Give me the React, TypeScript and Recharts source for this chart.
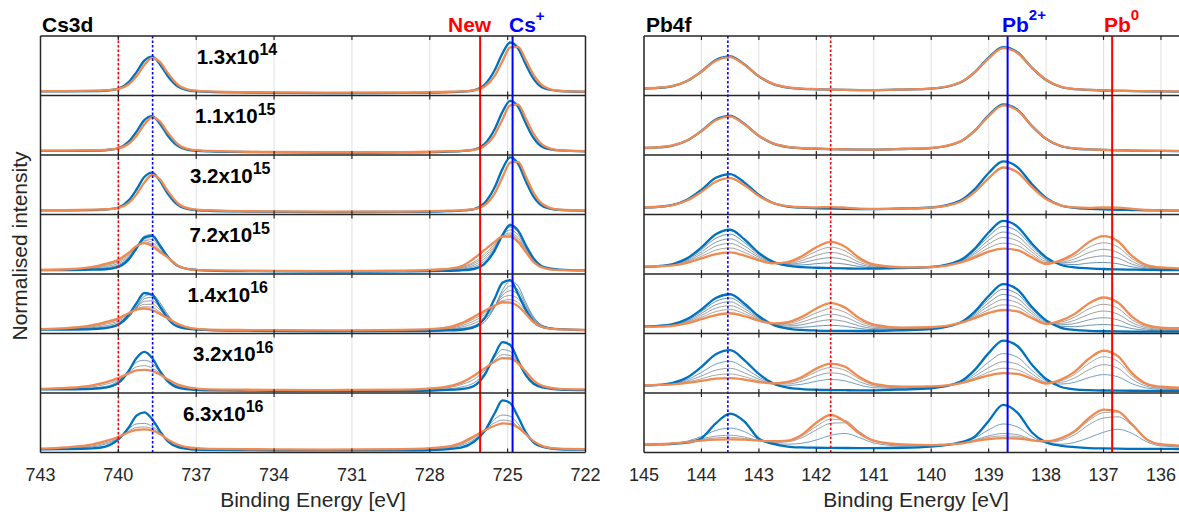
import React from 'react';
import { LineChart, Line, XAxis, YAxis, CartesianGrid, ReferenceLine } from 'recharts';

// ---------------- DATA ----------------
const LEFT_E = [743, 742, 741, 740.5, 740, 739.6, 739.3, 739, 738.7, 738.4, 738.1, 737.7, 737.2, 736.5, 735, 732, 729, 727.5, 726.8, 726.3, 725.9, 725.5, 725.2, 724.9, 724.6, 724.3, 724, 723.6, 723, 722];
const RIGHT_E = [145, 144.75, 144.5, 144.25, 144, 143.75, 143.5, 143.25, 143, 142.75, 142.5, 142.25, 142, 141.75, 141.5, 141.25, 141, 140.5, 140, 139.5, 139.25, 139, 138.75, 138.5, 138.25, 138, 137.75, 137.5, 137.25, 137, 136.75, 136.5, 136.25, 136, 135.5];

const LEFT_TICKS = [743, 740, 737, 734, 731, 728, 725, 722];
const RIGHT_TICKS = [145, 144, 143, 142, 141, 140, 139, 138, 137, 136];

const DOSE_MANTISSA = ['1.3x10', '1.1x10', '3.2x10', '7.2x10', '1.4x10', '3.2x10', '6.3x10'];
const DOSE_EXP = ['14', '15', '15', '15', '16', '16', '16'];

// marker energies (eV)
const CS_NEW_3_2 = 740;
const CS_PLUS_3_2 = 738.68;
const CS_NEW_5_2 = 726.06;
const CS_PLUS_5_2 = 724.81;
const PB2_7_2_5_2 = 143.54;
const PB0_5_2 = 141.75;
const PB2_7_2 = 138.67;
const PB0_7_2 = 136.85;

// ---- Cs3d spectra (normalised, per row) ----
const CS1_BLUE = [0.07, 0.07, 0.072, 0.08, 0.114, 0.224, 0.392, 0.586, 0.654, 0.526, 0.329, 0.15, 0.08, 0.062, 0.05, 0.04, 0.045, 0.053, 0.064, 0.088, 0.176, 0.425, 0.708, 0.891, 0.794, 0.52, 0.28, 0.122, 0.076, 0.061];
const CS1_ORANGE = [0.073, 0.075, 0.081, 0.087, 0.111, 0.189, 0.325, 0.513, 0.634, 0.565, 0.38, 0.179, 0.092, 0.068, 0.055, 0.05, 0.05, 0.061, 0.069, 0.086, 0.146, 0.33, 0.578, 0.81, 0.818, 0.594, 0.346, 0.15, 0.077, 0.066];
const CS2_BLUE = [0.07, 0.07, 0.072, 0.08, 0.114, 0.224, 0.392, 0.586, 0.654, 0.526, 0.329, 0.15, 0.08, 0.062, 0.05, 0.04, 0.045, 0.053, 0.065, 0.09, 0.18, 0.434, 0.724, 0.91, 0.812, 0.532, 0.286, 0.124, 0.077, 0.061];
const CS2_ORANGE = [0.073, 0.075, 0.081, 0.087, 0.111, 0.189, 0.325, 0.513, 0.634, 0.565, 0.38, 0.179, 0.092, 0.068, 0.055, 0.05, 0.05, 0.061, 0.069, 0.088, 0.15, 0.34, 0.598, 0.835, 0.847, 0.614, 0.357, 0.154, 0.078, 0.066];
const CS3_BLUE = [0.07, 0.071, 0.073, 0.082, 0.118, 0.238, 0.42, 0.63, 0.704, 0.565, 0.351, 0.158, 0.083, 0.063, 0.05, 0.04, 0.045, 0.054, 0.066, 0.092, 0.187, 0.457, 0.763, 0.96, 0.856, 0.559, 0.3, 0.129, 0.078, 0.062];
const CS3_ORANGE = [0.073, 0.075, 0.082, 0.088, 0.113, 0.195, 0.339, 0.536, 0.664, 0.591, 0.397, 0.185, 0.094, 0.068, 0.055, 0.05, 0.05, 0.062, 0.071, 0.09, 0.153, 0.355, 0.624, 0.873, 0.885, 0.64, 0.366, 0.159, 0.08, 0.067];
const CS4_BLUE = [0.064, 0.066, 0.072, 0.08, 0.12, 0.246, 0.432, 0.612, 0.642, 0.48, 0.295, 0.134, 0.077, 0.058, 0.048, 0.04, 0.045, 0.052, 0.062, 0.084, 0.165, 0.394, 0.654, 0.822, 0.733, 0.482, 0.262, 0.116, 0.074, 0.06];
const CS4_ORANGE = [0.07, 0.08, 0.12, 0.17, 0.24, 0.36, 0.47, 0.52, 0.47, 0.37, 0.28, 0.14, 0.075, 0.06, 0.055, 0.05, 0.055, 0.08, 0.13, 0.26, 0.4, 0.54, 0.63, 0.63, 0.54, 0.37, 0.2, 0.1, 0.065, 0.06];
const CS4_GRAY1 = [0.065, 0.068, 0.078, 0.09, 0.135, 0.265, 0.45, 0.635, 0.665, 0.5, 0.305, 0.138, 0.078, 0.059, 0.05, 0.042, 0.047, 0.056, 0.07, 0.095, 0.18, 0.41, 0.675, 0.84, 0.74, 0.48, 0.26, 0.116, 0.073, 0.06];
const CS4_GRAY2 = [0.066, 0.07, 0.086, 0.105, 0.155, 0.28, 0.455, 0.615, 0.625, 0.47, 0.295, 0.136, 0.077, 0.059, 0.051, 0.044, 0.049, 0.061, 0.082, 0.122, 0.215, 0.43, 0.665, 0.79, 0.7, 0.46, 0.25, 0.113, 0.071, 0.06];
const CS4_GRAY3 = [0.067, 0.073, 0.096, 0.125, 0.18, 0.3, 0.46, 0.59, 0.58, 0.44, 0.285, 0.136, 0.076, 0.059, 0.052, 0.046, 0.051, 0.066, 0.095, 0.15, 0.255, 0.45, 0.65, 0.74, 0.655, 0.44, 0.235, 0.109, 0.069, 0.06];
const CS4_GRAY4 = [0.068, 0.076, 0.105, 0.145, 0.205, 0.32, 0.465, 0.565, 0.535, 0.41, 0.28, 0.138, 0.076, 0.059, 0.053, 0.047, 0.053, 0.071, 0.107, 0.178, 0.295, 0.475, 0.64, 0.69, 0.61, 0.415, 0.22, 0.105, 0.068, 0.06];
const CS4_GRAY5 = [0.069, 0.078, 0.113, 0.16, 0.225, 0.34, 0.468, 0.54, 0.5, 0.39, 0.28, 0.139, 0.075, 0.06, 0.054, 0.049, 0.054, 0.076, 0.12, 0.2, 0.33, 0.5, 0.63, 0.66, 0.58, 0.4, 0.21, 0.102, 0.066, 0.06];
const CS5_BLUE = [0.065, 0.067, 0.075, 0.089, 0.15, 0.316, 0.508, 0.681, 0.649, 0.457, 0.253, 0.114, 0.073, 0.058, 0.047, 0.038, 0.04, 0.05, 0.063, 0.106, 0.249, 0.587, 0.854, 0.898, 0.663, 0.396, 0.2, 0.103, 0.072, 0.058];
const CS5_ORANGE = [0.075, 0.09, 0.14, 0.19, 0.255, 0.34, 0.4, 0.42, 0.395, 0.33, 0.255, 0.16, 0.09, 0.066, 0.058, 0.052, 0.06, 0.09, 0.17, 0.28, 0.38, 0.47, 0.525, 0.52, 0.46, 0.33, 0.19, 0.1, 0.068, 0.062];
const CS5_GRAY1 = [0.066, 0.069, 0.08, 0.095, 0.14, 0.27, 0.45, 0.625, 0.66, 0.52, 0.32, 0.14, 0.078, 0.06, 0.05, 0.042, 0.045, 0.056, 0.07, 0.098, 0.19, 0.44, 0.73, 0.88, 0.8, 0.52, 0.28, 0.124, 0.075, 0.06];
const CS5_GRAY2 = [0.067, 0.072, 0.09, 0.11, 0.16, 0.28, 0.44, 0.585, 0.61, 0.48, 0.3, 0.14, 0.078, 0.06, 0.051, 0.044, 0.048, 0.062, 0.085, 0.13, 0.23, 0.45, 0.68, 0.8, 0.73, 0.48, 0.26, 0.12, 0.073, 0.06];
const CS5_GRAY3 = [0.069, 0.076, 0.1, 0.13, 0.185, 0.295, 0.435, 0.54, 0.55, 0.44, 0.29, 0.145, 0.08, 0.061, 0.053, 0.046, 0.051, 0.068, 0.105, 0.17, 0.27, 0.46, 0.64, 0.72, 0.66, 0.45, 0.245, 0.115, 0.071, 0.06];
const CS5_GRAY4 = [0.071, 0.081, 0.115, 0.155, 0.21, 0.31, 0.425, 0.49, 0.49, 0.4, 0.28, 0.15, 0.084, 0.063, 0.055, 0.048, 0.054, 0.076, 0.128, 0.21, 0.31, 0.46, 0.6, 0.64, 0.585, 0.41, 0.225, 0.11, 0.07, 0.061];
const CS5_GRAY5 = [0.073, 0.086, 0.128, 0.175, 0.235, 0.325, 0.41, 0.45, 0.44, 0.36, 0.265, 0.155, 0.087, 0.064, 0.057, 0.05, 0.057, 0.083, 0.15, 0.245, 0.345, 0.465, 0.555, 0.57, 0.52, 0.37, 0.205, 0.104, 0.069, 0.061];
const CS6_BLUE = [0.06, 0.062, 0.071, 0.089, 0.17, 0.37, 0.588, 0.69, 0.588, 0.37, 0.199, 0.091, 0.059, 0.045, 0.04, 0.035, 0.035, 0.05, 0.065, 0.119, 0.295, 0.64, 0.854, 0.806, 0.552, 0.3, 0.155, 0.09, 0.058, 0.05];
const CS6_ORANGE = [0.07, 0.085, 0.13, 0.18, 0.25, 0.33, 0.38, 0.39, 0.37, 0.31, 0.23, 0.14, 0.085, 0.062, 0.055, 0.05, 0.058, 0.095, 0.17, 0.29, 0.41, 0.53, 0.585, 0.58, 0.5, 0.36, 0.21, 0.11, 0.07, 0.062];
const CS6_THIN1 = [0.064, 0.068, 0.085, 0.11, 0.2, 0.37, 0.52, 0.55, 0.5, 0.35, 0.2, 0.1, 0.065, 0.05, 0.045, 0.04, 0.042, 0.065, 0.1, 0.17, 0.33, 0.6, 0.73, 0.7, 0.5, 0.29, 0.16, 0.09, 0.06, 0.054];
const CS6_THIN2 = [0.067, 0.075, 0.105, 0.145, 0.22, 0.35, 0.44, 0.46, 0.42, 0.33, 0.21, 0.115, 0.072, 0.055, 0.05, 0.045, 0.05, 0.08, 0.14, 0.23, 0.37, 0.55, 0.645, 0.63, 0.5, 0.32, 0.18, 0.1, 0.065, 0.058];
const CS7_BLUE = [0.055, 0.058, 0.07, 0.1, 0.22, 0.42, 0.62, 0.675, 0.56, 0.36, 0.19, 0.09, 0.055, 0.045, 0.04, 0.035, 0.035, 0.05, 0.08, 0.18, 0.35, 0.66, 0.875, 0.83, 0.6, 0.34, 0.17, 0.09, 0.055, 0.048];
const CS7_ORANGE = [0.065, 0.085, 0.135, 0.19, 0.26, 0.34, 0.38, 0.39, 0.37, 0.31, 0.22, 0.13, 0.08, 0.06, 0.055, 0.05, 0.056, 0.09, 0.16, 0.27, 0.37, 0.45, 0.49, 0.48, 0.42, 0.31, 0.19, 0.1, 0.065, 0.058];
const CS7_THIN1 = [0.06, 0.068, 0.095, 0.14, 0.235, 0.4, 0.48, 0.49, 0.44, 0.33, 0.2, 0.1, 0.065, 0.05, 0.045, 0.04, 0.045, 0.07, 0.12, 0.22, 0.37, 0.56, 0.63, 0.61, 0.48, 0.3, 0.16, 0.085, 0.058, 0.052];
const CS7_THIN2 = [0.062, 0.075, 0.11, 0.16, 0.245, 0.36, 0.42, 0.43, 0.4, 0.32, 0.21, 0.11, 0.07, 0.055, 0.05, 0.045, 0.05, 0.08, 0.14, 0.25, 0.37, 0.5, 0.545, 0.53, 0.43, 0.3, 0.17, 0.09, 0.06, 0.055];

// ---- Pb4f spectra (normalised, per row) ----
const PB1_BLUE = [0.118, 0.128, 0.159, 0.243, 0.404, 0.598, 0.659, 0.52, 0.321, 0.19, 0.133, 0.113, 0.105, 0.099, 0.094, 0.091, 0.09, 0.1, 0.115, 0.215, 0.385, 0.637, 0.813, 0.727, 0.47, 0.26, 0.147, 0.106, 0.093, 0.084, 0.078, 0.075, 0.07, 0.068, 0.065];
const PB1_ORANGE = [0.12, 0.13, 0.162, 0.245, 0.4, 0.585, 0.645, 0.515, 0.325, 0.195, 0.137, 0.116, 0.107, 0.1, 0.095, 0.092, 0.091, 0.101, 0.117, 0.218, 0.385, 0.625, 0.795, 0.715, 0.47, 0.265, 0.15, 0.108, 0.095, 0.086, 0.08, 0.077, 0.072, 0.07, 0.067];
const PB2_BLUE = [0.118, 0.128, 0.159, 0.243, 0.404, 0.598, 0.659, 0.52, 0.321, 0.19, 0.133, 0.113, 0.105, 0.099, 0.094, 0.091, 0.09, 0.101, 0.116, 0.222, 0.4, 0.667, 0.852, 0.762, 0.492, 0.27, 0.151, 0.108, 0.094, 0.085, 0.079, 0.075, 0.07, 0.068, 0.065];
const PB2_ORANGE = [0.12, 0.13, 0.162, 0.245, 0.4, 0.585, 0.645, 0.515, 0.325, 0.195, 0.137, 0.116, 0.107, 0.1, 0.095, 0.092, 0.091, 0.102, 0.118, 0.224, 0.4, 0.655, 0.835, 0.75, 0.49, 0.275, 0.155, 0.11, 0.096, 0.087, 0.08, 0.077, 0.072, 0.07, 0.067];
const PB3_BLUE = [0.118, 0.129, 0.161, 0.248, 0.415, 0.616, 0.679, 0.535, 0.329, 0.194, 0.134, 0.114, 0.105, 0.099, 0.094, 0.091, 0.09, 0.101, 0.118, 0.229, 0.417, 0.697, 0.892, 0.797, 0.513, 0.28, 0.155, 0.11, 0.095, 0.085, 0.079, 0.075, 0.07, 0.068, 0.065];
const PB3_ORANGE = [0.12, 0.13, 0.158, 0.235, 0.38, 0.55, 0.61, 0.49, 0.31, 0.19, 0.14, 0.122, 0.12, 0.125, 0.115, 0.1, 0.094, 0.1, 0.116, 0.21, 0.37, 0.61, 0.79, 0.71, 0.465, 0.26, 0.155, 0.12, 0.112, 0.118, 0.115, 0.095, 0.078, 0.07, 0.066];
const PB4_BLUE = [0.12, 0.132, 0.168, 0.263, 0.447, 0.668, 0.744, 0.58, 0.353, 0.204, 0.139, 0.115, 0.105, 0.098, 0.093, 0.09, 0.09, 0.101, 0.118, 0.229, 0.417, 0.697, 0.892, 0.797, 0.513, 0.28, 0.155, 0.11, 0.095, 0.084, 0.078, 0.074, 0.07, 0.067, 0.064];
const PB4_ORANGE = [0.125, 0.13, 0.146, 0.188, 0.261, 0.334, 0.362, 0.308, 0.23, 0.18, 0.2, 0.3, 0.45, 0.54, 0.46, 0.27, 0.16, 0.11, 0.115, 0.19, 0.275, 0.375, 0.425, 0.4, 0.28, 0.17, 0.23, 0.35, 0.54, 0.635, 0.55, 0.3, 0.15, 0.11, 0.09];
const PB4_GRAY1 = [0.121, 0.132, 0.164, 0.248, 0.41, 0.601, 0.668, 0.526, 0.328, 0.199, 0.151, 0.152, 0.174, 0.186, 0.166, 0.126, 0.104, 0.103, 0.117, 0.221, 0.389, 0.633, 0.799, 0.718, 0.466, 0.258, 0.17, 0.158, 0.184, 0.194, 0.172, 0.119, 0.086, 0.076, 0.069];
const PB4_GRAY2 = [0.122, 0.131, 0.159, 0.233, 0.373, 0.534, 0.591, 0.471, 0.304, 0.194, 0.163, 0.189, 0.243, 0.275, 0.24, 0.162, 0.118, 0.105, 0.117, 0.213, 0.36, 0.568, 0.705, 0.638, 0.42, 0.236, 0.185, 0.206, 0.273, 0.304, 0.267, 0.164, 0.102, 0.084, 0.074];
const PB4_GRAY3 = [0.123, 0.131, 0.155, 0.218, 0.335, 0.468, 0.515, 0.417, 0.279, 0.19, 0.176, 0.226, 0.312, 0.363, 0.313, 0.198, 0.132, 0.106, 0.116, 0.206, 0.332, 0.504, 0.612, 0.559, 0.373, 0.214, 0.2, 0.254, 0.362, 0.415, 0.361, 0.21, 0.118, 0.093, 0.08];
const PB4_GRAY4 = [0.124, 0.13, 0.15, 0.203, 0.298, 0.401, 0.438, 0.362, 0.255, 0.185, 0.188, 0.263, 0.381, 0.452, 0.387, 0.234, 0.146, 0.108, 0.116, 0.198, 0.303, 0.439, 0.518, 0.479, 0.326, 0.192, 0.215, 0.302, 0.451, 0.525, 0.456, 0.255, 0.134, 0.101, 0.085];
const PB5_BLUE = [0.118, 0.128, 0.159, 0.243, 0.404, 0.598, 0.66, 0.5, 0.29, 0.145, 0.083, 0.06, 0.05, 0.045, 0.043, 0.042, 0.042, 0.055, 0.075, 0.18, 0.36, 0.63, 0.83, 0.74, 0.45, 0.22, 0.1, 0.06, 0.045, 0.038, 0.035, 0.033, 0.032, 0.031, 0.03];
const PB5_ORANGE = [0.11, 0.115, 0.13, 0.17, 0.24, 0.31, 0.34, 0.29, 0.215, 0.17, 0.19, 0.28, 0.42, 0.51, 0.435, 0.255, 0.15, 0.1, 0.105, 0.175, 0.255, 0.345, 0.395, 0.37, 0.26, 0.16, 0.215, 0.33, 0.51, 0.605, 0.52, 0.28, 0.14, 0.1, 0.085];
const PB5_GRAY1 = [0.116, 0.125, 0.153, 0.228, 0.371, 0.54, 0.596, 0.458, 0.275, 0.15, 0.104, 0.104, 0.124, 0.138, 0.121, 0.085, 0.064, 0.064, 0.081, 0.179, 0.339, 0.573, 0.743, 0.666, 0.412, 0.208, 0.123, 0.114, 0.138, 0.151, 0.132, 0.082, 0.054, 0.045, 0.041];
const PB5_GRAY2 = [0.115, 0.123, 0.147, 0.214, 0.338, 0.483, 0.532, 0.416, 0.26, 0.155, 0.126, 0.148, 0.198, 0.231, 0.2, 0.127, 0.085, 0.073, 0.087, 0.178, 0.318, 0.516, 0.656, 0.592, 0.374, 0.196, 0.146, 0.168, 0.231, 0.265, 0.229, 0.132, 0.075, 0.059, 0.052];
const PB5_GRAY3 = [0.113, 0.12, 0.142, 0.199, 0.306, 0.425, 0.468, 0.374, 0.245, 0.16, 0.147, 0.192, 0.272, 0.324, 0.278, 0.17, 0.107, 0.082, 0.093, 0.177, 0.297, 0.459, 0.569, 0.518, 0.336, 0.184, 0.169, 0.222, 0.324, 0.378, 0.326, 0.181, 0.097, 0.072, 0.063];
const PB5_GRAY4 = [0.112, 0.118, 0.136, 0.185, 0.273, 0.368, 0.404, 0.332, 0.23, 0.165, 0.169, 0.236, 0.346, 0.417, 0.357, 0.213, 0.128, 0.091, 0.099, 0.176, 0.276, 0.402, 0.482, 0.444, 0.298, 0.172, 0.192, 0.276, 0.418, 0.491, 0.423, 0.23, 0.118, 0.086, 0.074];
const PB6_BLUE = [0.125, 0.136, 0.17, 0.26, 0.44, 0.65, 0.72, 0.55, 0.32, 0.16, 0.09, 0.065, 0.055, 0.05, 0.047, 0.045, 0.045, 0.058, 0.08, 0.19, 0.38, 0.67, 0.88, 0.79, 0.48, 0.235, 0.105, 0.062, 0.048, 0.042, 0.04, 0.038, 0.037, 0.036, 0.035];
const PB6_ORANGE = [0.13, 0.135, 0.145, 0.17, 0.205, 0.24, 0.25, 0.225, 0.185, 0.16, 0.185, 0.27, 0.41, 0.495, 0.44, 0.27, 0.155, 0.105, 0.11, 0.16, 0.225, 0.295, 0.335, 0.32, 0.24, 0.16, 0.22, 0.36, 0.58, 0.71, 0.62, 0.33, 0.155, 0.105, 0.085];
const PB6_THIN1 = [0.127, 0.136, 0.16, 0.224, 0.346, 0.486, 0.532, 0.42, 0.266, 0.16, 0.128, 0.147, 0.197, 0.228, 0.204, 0.135, 0.089, 0.077, 0.092, 0.178, 0.318, 0.52, 0.662, 0.602, 0.384, 0.205, 0.151, 0.181, 0.261, 0.309, 0.272, 0.155, 0.084, 0.064, 0.055];
const PB6_THIN2 = [0.128, 0.135, 0.154, 0.202, 0.287, 0.384, 0.415, 0.339, 0.232, 0.16, 0.152, 0.198, 0.286, 0.339, 0.302, 0.191, 0.117, 0.089, 0.1, 0.171, 0.279, 0.426, 0.526, 0.485, 0.324, 0.186, 0.18, 0.256, 0.394, 0.476, 0.417, 0.228, 0.114, 0.081, 0.068];
const PB6_THIN3 = [0.129, 0.135, 0.149, 0.184, 0.24, 0.302, 0.32, 0.274, 0.205, 0.16, 0.171, 0.239, 0.357, 0.428, 0.381, 0.236, 0.139, 0.098, 0.106, 0.165, 0.248, 0.351, 0.417, 0.39, 0.276, 0.171, 0.203, 0.315, 0.5, 0.61, 0.533, 0.286, 0.137, 0.095, 0.078];
const PB7_BLUE = [0.13, 0.135, 0.145, 0.165, 0.24, 0.49, 0.655, 0.52, 0.23, 0.145, 0.1, 0.085, 0.08, 0.078, 0.076, 0.075, 0.075, 0.08, 0.1, 0.17, 0.26, 0.53, 0.8, 0.67, 0.34, 0.17, 0.115, 0.09, 0.075, 0.068, 0.064, 0.062, 0.06, 0.06, 0.058];
const PB7_ORANGE = [0.13, 0.14, 0.155, 0.175, 0.2, 0.215, 0.22, 0.215, 0.2, 0.19, 0.2, 0.3, 0.5, 0.63, 0.52, 0.32, 0.2, 0.135, 0.125, 0.15, 0.19, 0.225, 0.24, 0.235, 0.205, 0.19, 0.24, 0.36, 0.58, 0.72, 0.69, 0.47, 0.22, 0.14, 0.11];
const PB7_THIN1 = [0.135, 0.14, 0.155, 0.19, 0.27, 0.37, 0.41, 0.35, 0.22, 0.155, 0.14, 0.155, 0.21, 0.29, 0.32, 0.25, 0.16, 0.11, 0.11, 0.16, 0.24, 0.38, 0.48, 0.43, 0.27, 0.16, 0.14, 0.17, 0.25, 0.34, 0.39, 0.32, 0.18, 0.11, 0.09];
const PB7_THIN2 = [0.133, 0.14, 0.155, 0.18, 0.23, 0.275, 0.29, 0.26, 0.2, 0.17, 0.18, 0.25, 0.38, 0.49, 0.5, 0.35, 0.2, 0.125, 0.12, 0.155, 0.21, 0.28, 0.32, 0.3, 0.22, 0.17, 0.2, 0.3, 0.47, 0.58, 0.6, 0.45, 0.23, 0.13, 0.1];
const PB7_THIN3 = [0.132, 0.14, 0.155, 0.178, 0.215, 0.245, 0.255, 0.235, 0.2, 0.18, 0.19, 0.28, 0.44, 0.56, 0.54, 0.35, 0.2, 0.13, 0.122, 0.152, 0.2, 0.255, 0.28, 0.27, 0.21, 0.18, 0.22, 0.34, 0.54, 0.67, 0.68, 0.48, 0.23, 0.135, 0.105];

// ---------------- STYLE ----------------
const BLUE = '#0072BD';
const ORANGE = '#EE8A52';
const GRAYS5 = ['#3d78a6', '#5b7f9b', '#76858f', '#8c8985', '#a0897a'];
const GRAYS4 = ['#4179a5', '#6a8296', '#858a8c', '#9b8a7e'];
const THIN3 = ['#4f86b5', '#7a8a98', '#9a9088'];
const FRAME = '#262626';
const FONT = '"Liberation Sans", Arial, Helvetica, sans-serif';
const RED_M = '#FF0000';
const BLUE_M = '#0000FF';

type C = { vals: number[]; color: string; w: number };
const thin = (vals: number[], color: string): C => ({ vals, color, w: 0.8 });
const thick = (vals: number[], color: string): C => ({ vals, color, w: 2.3 });

const CS_ROWS: C[][] = [
  [thick(CS1_BLUE, BLUE), thick(CS1_ORANGE, ORANGE)],
  [thick(CS2_BLUE, BLUE), thick(CS2_ORANGE, ORANGE)],
  [thick(CS3_BLUE, BLUE), thick(CS3_ORANGE, ORANGE)],
  [thin(CS4_GRAY1, GRAYS5[0]), thin(CS4_GRAY2, GRAYS5[1]), thin(CS4_GRAY3, GRAYS5[2]), thin(CS4_GRAY4, GRAYS5[3]), thin(CS4_GRAY5, GRAYS5[4]), thick(CS4_BLUE, BLUE), thick(CS4_ORANGE, ORANGE)],
  [thin(CS5_GRAY1, GRAYS5[0]), thin(CS5_GRAY2, GRAYS5[1]), thin(CS5_GRAY3, GRAYS5[2]), thin(CS5_GRAY4, GRAYS5[3]), thin(CS5_GRAY5, GRAYS5[4]), thick(CS5_BLUE, BLUE), thick(CS5_ORANGE, ORANGE)],
  [thin(CS6_THIN1, THIN3[0]), thin(CS6_THIN2, THIN3[1]), thick(CS6_BLUE, BLUE), thick(CS6_ORANGE, ORANGE)],
  [thin(CS7_THIN1, THIN3[0]), thin(CS7_THIN2, THIN3[1]), thick(CS7_BLUE, BLUE), thick(CS7_ORANGE, ORANGE)],
];

const PB_ROWS: C[][] = [
  [thick(PB1_BLUE, BLUE), thick(PB1_ORANGE, ORANGE)],
  [thick(PB2_BLUE, BLUE), thick(PB2_ORANGE, ORANGE)],
  [thick(PB3_BLUE, BLUE), thick(PB3_ORANGE, ORANGE)],
  [thin(PB4_GRAY1, GRAYS4[0]), thin(PB4_GRAY2, GRAYS4[1]), thin(PB4_GRAY3, GRAYS4[2]), thin(PB4_GRAY4, GRAYS4[3]), thick(PB4_BLUE, BLUE), thick(PB4_ORANGE, ORANGE)],
  [thin(PB5_GRAY1, GRAYS4[0]), thin(PB5_GRAY2, GRAYS4[1]), thin(PB5_GRAY3, GRAYS4[2]), thin(PB5_GRAY4, GRAYS4[3]), thick(PB5_BLUE, BLUE), thick(PB5_ORANGE, ORANGE)],
  [thin(PB6_THIN1, THIN3[0]), thin(PB6_THIN2, THIN3[1]), thin(PB6_THIN3, THIN3[2]), thick(PB6_BLUE, BLUE), thick(PB6_ORANGE, ORANGE)],
  [thin(PB7_THIN1, THIN3[0]), thin(PB7_THIN2, THIN3[1]), thin(PB7_THIN3, THIN3[2]), thick(PB7_BLUE, BLUE), thick(PB7_ORANGE, ORANGE)],
];

type Marker = { x: number; color: string; dotted: boolean };

function Panel(props: {
  left: number; energies: number[]; rows: C[][]; domain: [number, number];
  ticks: number[]; margin: any; markers: Marker[]; id: string;
}) {
  const { left, energies, rows, domain, ticks, margin, markers, id } = props;
  const n = rows.length;
  const inner = ticks.filter((t) => t !== domain[0] && t !== domain[1]);
  const tickLen = 4 / 59.5;
  return (
    <div style={{ position: 'absolute', left, top: 0 }}>
      <LineChart width={600} height={512} margin={margin}>
        <XAxis
          xAxisId={0}
          type="number"
          dataKey="e"
          domain={domain}
          reversed
          allowDataOverflow
          ticks={ticks}
          interval={0}
          tickLine={false}
          axisLine={false}
          tickSize={0}
          tickMargin={16}
          height={30}
          tick={{ fontSize: 18, fill: FRAME, fontFamily: FONT }}
        />
        {rows.map((_, k) => (
          <YAxis key={'y' + k} yAxisId={k} type="number" domain={[k - (n - 1), k + 1]} allowDataOverflow hide />
        ))}
        <CartesianGrid horizontal={false} vertical stroke="#e1e1e1" strokeWidth={1} yAxisId={0} xAxisId={0} />
        {rows.map((curves, k) =>
          curves.map((c, j) => (
            <Line
              key={id + k + '-' + j}
              yAxisId={k}
              xAxisId={0}
              data={energies.map((e, i) => ({ e, v: c.vals[i] }))}
              dataKey="v"
              type="monotone"
              stroke={c.color}
              strokeWidth={c.w}
              dot={false}
              activeDot={false}
              isAnimationActive={false}
            />
          ))
        )}
        {markers.map((m, i) => (
          <ReferenceLine
            key={'m' + i}
            yAxisId={0}
            xAxisId={0}
            x={m.x}
            stroke={m.color}
            strokeWidth={m.dotted ? 1.6 : 2}
            strokeDasharray={m.dotted ? '2.5 2' : undefined}
          />
        ))}
        {rows.map((_, k) =>
          inner.map((t) => (
            <ReferenceLine key={'tb' + k + '-' + t} yAxisId={k} xAxisId={0} segment={[{ x: t, y: 0 }, { x: t, y: tickLen }]} stroke={FRAME} strokeWidth={1.2} />
          ))
        )}
        {rows.map((_, k) =>
          inner.map((t) => (
            <ReferenceLine key={'tt' + k + '-' + t} yAxisId={k} xAxisId={0} segment={[{ x: t, y: 1 - tickLen }, { x: t, y: 1 }]} stroke={FRAME} strokeWidth={1.2} />
          ))
        )}
        {rows.map((_, k) => (
          <ReferenceLine key={'h' + k} yAxisId={k} xAxisId={0} y={0} stroke={FRAME} strokeWidth={1.5} />
        ))}
        <ReferenceLine yAxisId={0} xAxisId={0} y={1} stroke={FRAME} strokeWidth={1.5} />
        <ReferenceLine yAxisId={0} xAxisId={0} x={domain[0]} stroke={FRAME} strokeWidth={1.5} />
        <ReferenceLine yAxisId={0} xAxisId={0} x={domain[1]} stroke={FRAME} strokeWidth={1.5} />
      </LineChart>
    </div>
  );
}

const LABEL_X = [196.7, 195, 190, 189.4, 187.5, 193, 183];

export default function App() {
  const rowTop = 36;
  const rowH = 59.5;
  return (
    <div style={{ position: 'fixed', left: 0, top: 0, width: 1179, height: 512, overflow: 'hidden', background: '#fff', fontFamily: FONT }}>
      <Panel
        id="cs"
        left={0}
        energies={LEFT_E}
        rows={CS_ROWS}
        domain={[722, 743]}
        ticks={LEFT_TICKS}
        margin={{ top: 36, right: 14.5, bottom: 29.5, left: 40.5 }}
        markers={[
          { x: CS_NEW_3_2, color: RED_M, dotted: true },
          { x: CS_PLUS_3_2, color: BLUE_M, dotted: true },
          { x: CS_NEW_5_2, color: RED_M, dotted: false },
          { x: CS_PLUS_5_2, color: BLUE_M, dotted: false },
        ]}
      />
      <Panel
        id="pb"
        left={600}
        energies={RIGHT_E}
        rows={PB_ROWS}
        domain={[135.5, 145]}
        ticks={RIGHT_TICKS}
        margin={{ top: 36, right: 10.3, bottom: 29.5, left: 44 }}
        markers={[
          { x: PB2_7_2_5_2, color: BLUE_M, dotted: true },
          { x: PB0_5_2, color: RED_M, dotted: true },
          { x: PB2_7_2, color: BLUE_M, dotted: false },
          { x: PB0_7_2, color: RED_M, dotted: false },
        ]}
      />
      <svg width={1179} height={512} style={{ position: 'absolute', left: 0, top: 0, pointerEvents: 'none' }} fontFamily={FONT}>
        <text x={42} y={32} fontSize={21} fontWeight="bold" fill="#000">Cs3d</text>
        <text x={646} y={32} fontSize={21} fontWeight="bold" fill="#000">Pb4f</text>
        <text x={448} y={32} fontSize={21} fontWeight="bold" fill={RED_M}>New</text>
        <text x={509} y={32} fontSize={21} fontWeight="bold" fill={BLUE_M}>
          Cs<tspan dy={-11} fontSize={15}>+</tspan>
        </text>
        <text x={1002} y={32} fontSize={21} fontWeight="bold" fill={BLUE_M}>
          Pb<tspan dy={-12} fontSize={15}>2+</tspan>
        </text>
        <text x={1104} y={32} fontSize={21} fontWeight="bold" fill={RED_M}>
          Pb<tspan dy={-12} fontSize={15}>0</tspan>
        </text>
        {DOSE_MANTISSA.map((m, k) => (
          <text key={'d' + k} x={LABEL_X[k]} y={rowTop + rowH * k + 27.5} fontSize={20.5} fontWeight="bold" fill="#000">
            {m}
            <tspan dy={-8.5} fontSize={16}>{DOSE_EXP[k]}</tspan>
          </text>
        ))}
        <text x={0} y={0} transform="translate(27,246) rotate(-90)" textAnchor="middle" fontSize={21} fill={FRAME}>Normalised intensity</text>
        <text x={313} y={507} textAnchor="middle" fontSize={21} fill={FRAME}>Binding Energy [eV]</text>
        <text x={916} y={507} textAnchor="middle" fontSize={21} fill={FRAME}>Binding Energy [eV]</text>
      </svg>
    </div>
  );
}
